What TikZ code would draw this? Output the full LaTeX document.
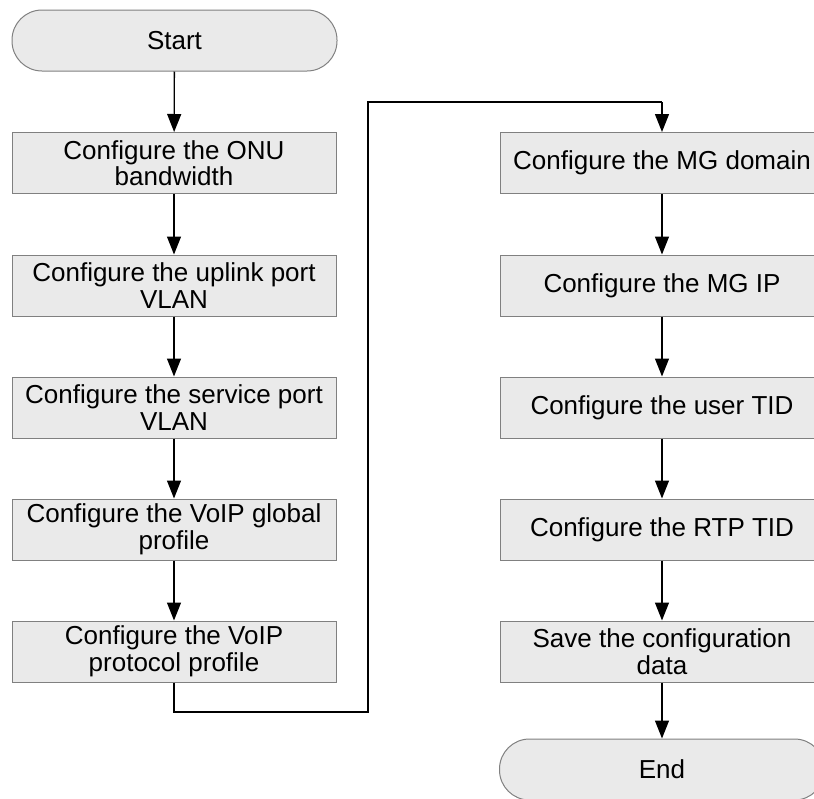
\documentclass[tikz,border=0pt]{standalone}
\usepackage{fontspec}
\setmainfont{Liberation Sans}
\usetikzlibrary{arrows.meta}
\definecolor{boxfill}{HTML}{EAEAEA}
\definecolor{boxline}{HTML}{808080}
\begin{document}
\begin{tikzpicture}[x=1pt,y=-1pt,
  every node/.style={font=\fontsize{26}{26.5}\selectfont, align=center, inner sep=0pt},
  procbox/.style={draw=boxline, fill=boxfill, line width=1pt, minimum width=324pt, minimum height=61pt},
  termbox/.style={draw=boxline, fill=boxfill, line width=1pt, minimum width=325pt, minimum height=61pt, rounded corners=30pt},
  flow/.style={draw=black, line width=1.3pt, -{Triangle[length=18pt,width=14pt]}},
  link/.style={draw=black, line width=1.3pt}]
\useasboundingbox (0,0) rectangle (814,798);
\clip (0,0) rectangle (814,798);
\node[termbox] (start) at (174.5,40.5) {Start};
\node[procbox] (b1) at (174,163) {Configure the ONU\\bandwidth};
\node[procbox] (b2) at (174,285.5) {Configure the uplink port\\VLAN};
\node[procbox] (b3) at (174,407.5) {Configure the service port\\VLAN};
\node[procbox] (b4) at (174,529.5) {Configure the VoIP global\\profile};
\node[procbox] (b5) at (174,651.5) {Configure the VoIP\\protocol profile};
\node[procbox] (r1) at (662,163) {Configure the MG domain};
\node[procbox] (r2) at (662,285.5) {Configure the MG IP};
\node[procbox] (r3) at (662,407.5) {Configure the user TID};
\node[procbox] (r4) at (662,529.5) {Configure the RTP TID};
\node[procbox] (r5) at (662,651.5) {Save the configuration\\data};
\node[termbox] (end) at (662,769.5) {End};
\coordinate (c1) at (174,712);
\coordinate (c2) at (368,712);
\coordinate (c3) at (368,102);
\coordinate (c4) at (662,102);
\draw[flow] (start) -- (b1);
\draw[flow] (b1) -- (b2);
\draw[flow] (b2) -- (b3);
\draw[flow] (b3) -- (b4);
\draw[flow] (b4) -- (b5);
\draw[link] (b5.south) -- (c1) -- (c2) -- (c3) -- (c4);
\draw[flow] (c4) -- (r1.north);
\draw[flow] (r1) -- (r2);
\draw[flow] (r2) -- (r3);
\draw[flow] (r3) -- (r4);
\draw[flow] (r4) -- (r5);
\draw[flow] (r5) -- (end);
\end{tikzpicture}
\end{document}
